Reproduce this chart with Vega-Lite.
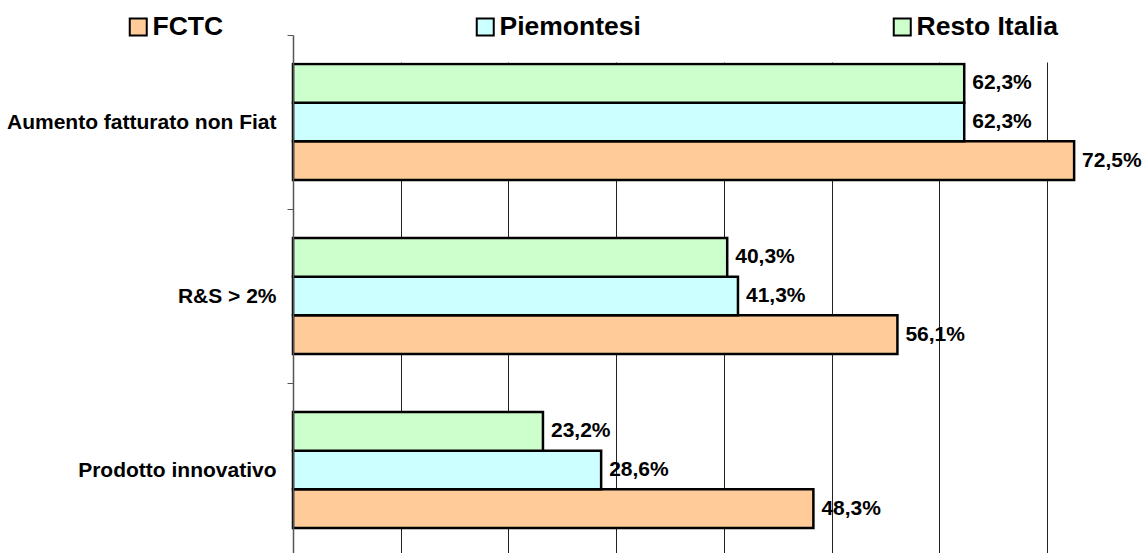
{
  "$schema": "https://vega.github.io/schema/vega-lite/v6.json",
  "autosize": "none",
  "width": 849,
  "height": 518,
  "padding": {"left": 293, "top": 35, "right": 0, "bottom": 0},
  "background": "white",
  "config": {
    "view": {"stroke": null},
    "font": "Liberation Sans",
    "locale": {"number": {"decimal": ",", "thousands": ".", "grouping": [3], "currency": ["€", ""]}}
  },
  "data": {
    "values": [
      {"categoria": "Aumento fatturato non Fiat", "gruppo": "FCTC", "valore": 0.725},
      {"categoria": "Aumento fatturato non Fiat", "gruppo": "Piemontesi", "valore": 0.623},
      {"categoria": "Aumento fatturato non Fiat", "gruppo": "Resto Italia", "valore": 0.623},
      {"categoria": "R&S > 2%", "gruppo": "FCTC", "valore": 0.561},
      {"categoria": "R&S > 2%", "gruppo": "Piemontesi", "valore": 0.413},
      {"categoria": "R&S > 2%", "gruppo": "Resto Italia", "valore": 0.403},
      {"categoria": "Prodotto innovativo", "gruppo": "FCTC", "valore": 0.483},
      {"categoria": "Prodotto innovativo", "gruppo": "Piemontesi", "valore": 0.286},
      {"categoria": "Prodotto innovativo", "gruppo": "Resto Italia", "valore": 0.232}
    ]
  },
  "encoding": {
    "y": {
      "field": "categoria",
      "type": "nominal",
      "sort": null,
      "scale": {"paddingInner": 0, "paddingOuter": 0, "range": [0, 522]},
      "axis": {
        "title": null,
        "tickBand": "extent",
        "labelFontSize": 21,
        "labelFontWeight": "bold",
        "labelColor": "black",
        "labelPadding": 11,
        "labelLimit": 0,
        "tickSize": 6,
        "tickColor": "#555555",
        "domainColor": "#555555",
        "domainWidth": 1.5,
        "grid": false,
        "zindex": 2
      }
    },
    "yOffset": {
      "field": "gruppo",
      "type": "nominal",
      "sort": ["Resto Italia", "Piemontesi", "FCTC"],
      "scale": {"paddingInner": 0, "paddingOuter": 0.75}
    },
    "x": {
      "field": "valore",
      "type": "quantitative",
      "scale": {"domain": [0, 0.788], "nice": false},
      "axis": {
        "title": null,
        "labels": false,
        "ticks": false,
        "domain": false,
        "grid": true,
        "gridColor": "#222222",
        "gridWidth": 1,
        "values": [0.1, 0.2, 0.3, 0.4, 0.5, 0.6, 0.7]
      }
    }
  },
  "layer": [
    {
      "mark": {"type": "bar", "stroke": "black", "strokeWidth": 2.5},
      "encoding": {
        "color": {
          "field": "gruppo",
          "type": "nominal",
          "scale": {"domain": ["FCTC", "Piemontesi", "Resto Italia"], "range": ["#FFCC99", "#CCFFFF", "#CCFFCC"]},
          "legend": {
            "orient": "none",
            "legendX": -190,
            "legendY": -43.5,
            "direction": "horizontal",
            "title": null,
            "labelFontSize": 26.5,
            "labelFont": "Liberation Sans",
            "labelFontWeight": "bold",
            "labelColor": "black",
            "labelLimit": 0,
            "labelOffset": 1,
            "symbolType": "square",
            "symbolSize": 289,
            "symbolStrokeColor": "black",
            "symbolStrokeWidth": 2,
            "symbolOpacity": 1,
            "columnPadding": 248,
            "padding": 22,
            "fillColor": "white",
            "zindex": 1
          }
        }
      }
    },
    {
      "mark": {"type": "text", "align": "left", "baseline": "middle", "dx": 8, "fontSize": 21, "fontWeight": "bold", "color": "black"},
      "encoding": {
        "text": {"field": "valore", "type": "quantitative", "format": ".1%"}
      }
    }
  ]
}
